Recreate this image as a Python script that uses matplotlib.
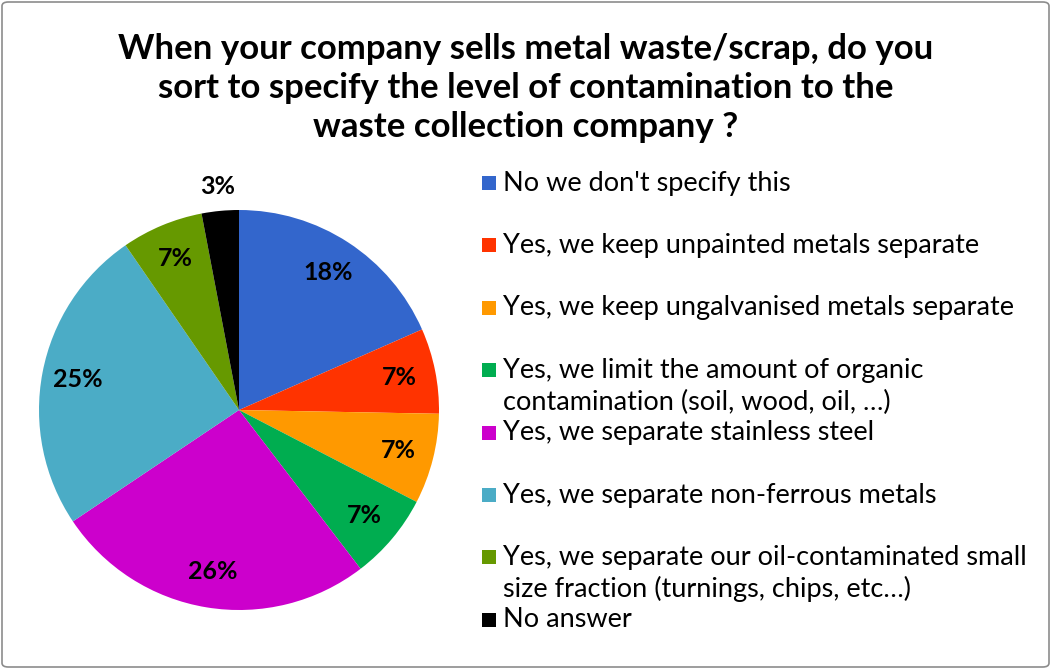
import matplotlib.pyplot as plt
import numpy as np
from matplotlib.patches import Rectangle, FancyBboxPatch

labels = ["No we don't specify this",
          "Yes, we keep unpainted metals separate",
          "Yes, we keep ungalvanised metals separate",
          "Yes, we limit the amount of organic\ncontamination (soil, wood, oil, \u2026)",
          "Yes, we separate stainless steel",
          "Yes, we separate non-ferrous metals",
          "Yes, we separate our oil-contaminated small\nsize fraction (turnings, chips, etc\u2026)",
          "No answer"]
values = [18.4, 6.9, 7.3, 7.0, 26.0, 24.8, 6.6, 3.0]
colors = ['#3366CC', '#FF3300', '#FF9900', '#00AD50', '#CC00CC', '#4BACC6', '#669900', '#000000']

title = ("When your company sells metal waste/scrap, do you\n"
         "sort to specify the level of contamination to the\n"
         "waste collection company ?")

W, H = 1051, 669
fig = plt.figure(figsize=(W / 100, H / 100), dpi=100)
fig.patch.set_facecolor('white')

fnt = 'Lato'

# frame round the chart
fig.patches.append(FancyBboxPatch((2 / W, 2 / H), 1 - 4 / W, 1 - 4 / H,
                                  boxstyle='round,pad=0,rounding_size=0.006',
                                  transform=fig.transFigure, fill=False,
                                  edgecolor='#8c8c8c', lw=1.2))

fig.text(526 / W, 1 - 88 / H, title, ha='center', va='center', fontsize=25,
         fontweight='bold', family=fnt, linespacing=1.26)

# pie
cx, cy, r = 239, 410, 200
ax = fig.add_axes([(cx - r) / W, (H - cy - r) / H, 2 * r / W, 2 * r / H])
wedges, texts, autotexts = ax.pie(values, colors=colors, startangle=90, counterclock=False,
                                  autopct=lambda p: '%d%%' % round(p), pctdistance=0.82,
                                  wedgeprops=dict(linewidth=0),
                                  textprops=dict(fontsize=18, fontweight='bold', family=fnt))
ax.set_xlim(-1, 1)
ax.set_ylim(-1, 1)
ax.set_aspect('equal')

# small slice label sits outside
w = wedges[-1]
mid = np.deg2rad((w.theta1 + w.theta2) / 2)
autotexts[-1].set_position((1.12 * np.cos(mid), 1.12 * np.sin(mid)))

# legend, Excel style
for i, (lab, col) in enumerate(zip(labels, colors)):
    y = 183 + i * 62.4
    fig.patches.append(Rectangle((482 / W, 1 - (y + 7) / H), 14 / W, 14 / H,
                                 transform=fig.transFigure, facecolor=col, edgecolor='none'))
    for j, line in enumerate(lab.split('\n')):
        fig.text(503 / W, 1 - (y + 32 * j) / H, line, ha='left', va='center',
                 fontsize=19.5, family=fnt)

fig.savefig('out.png', dpi=100)
